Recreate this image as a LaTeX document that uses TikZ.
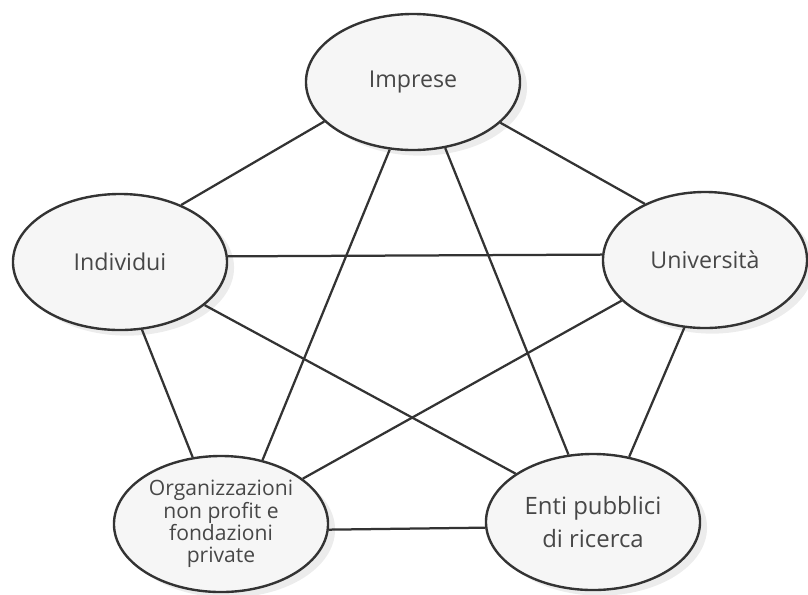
\documentclass[tikz,border=0pt]{standalone}
\usepackage{fontspec}
\setmainfont{Open Sans}
\usetikzlibrary{shapes.geometric,shadows}
\begin{document}
\begin{tikzpicture}[x=0.025cm,y=-0.025cm,
  actor/.style={ellipse, draw=black!80, line width=1.7pt, fill=gray!7,
    minimum width=5.35cm, minimum height=3.4cm, inner sep=0pt,
    text=black!72, align=center, font=\fontsize{16.5}{23.5}\selectfont,
    drop shadow={shadow xshift=5pt, shadow yshift=-4pt, fill=gray!30, draw=none}},
  link/.style={draw=black!80, line width=1.6pt}]
\useasboundingbox (0,0) rectangle (808,594);

% the five actors
\node[actor] (imp) at (413,82) {Imprese};
\node[actor] (ind) at (120,262) {Individui};
\node[actor, minimum width=5.1cm] (uni) at (705,260) {Università};
\node[actor, font=\fontsize{15}{15.8}\selectfont] (org) at (221,524)
  {Organizzazioni\\non profit e\\fondazioni\\private};
\node[actor, font=\fontsize{17}{23.5}\selectfont] (ent) at (593,522)
  {Enti pubblici\\di ricerca};

% every actor linked to every other one
\draw[link] (imp.204) -- (ind.43);
\draw[link] (imp.335) -- (uni.137);
\draw[link] (ind.3) -- (uni.177);
\draw[link] (imp.251) -- (org.57);
\draw[link] (imp.296) -- (ent.110);
\draw[link] (ind.288) -- (org.113);
\draw[link] (ind.333) -- (ent.148);
\draw[link] (uni.206) -- (org.29);
\draw[link] (uni.253) -- (ent.61);
\draw[link] (org.357) -- (ent.183);
\end{tikzpicture}
\end{document}
